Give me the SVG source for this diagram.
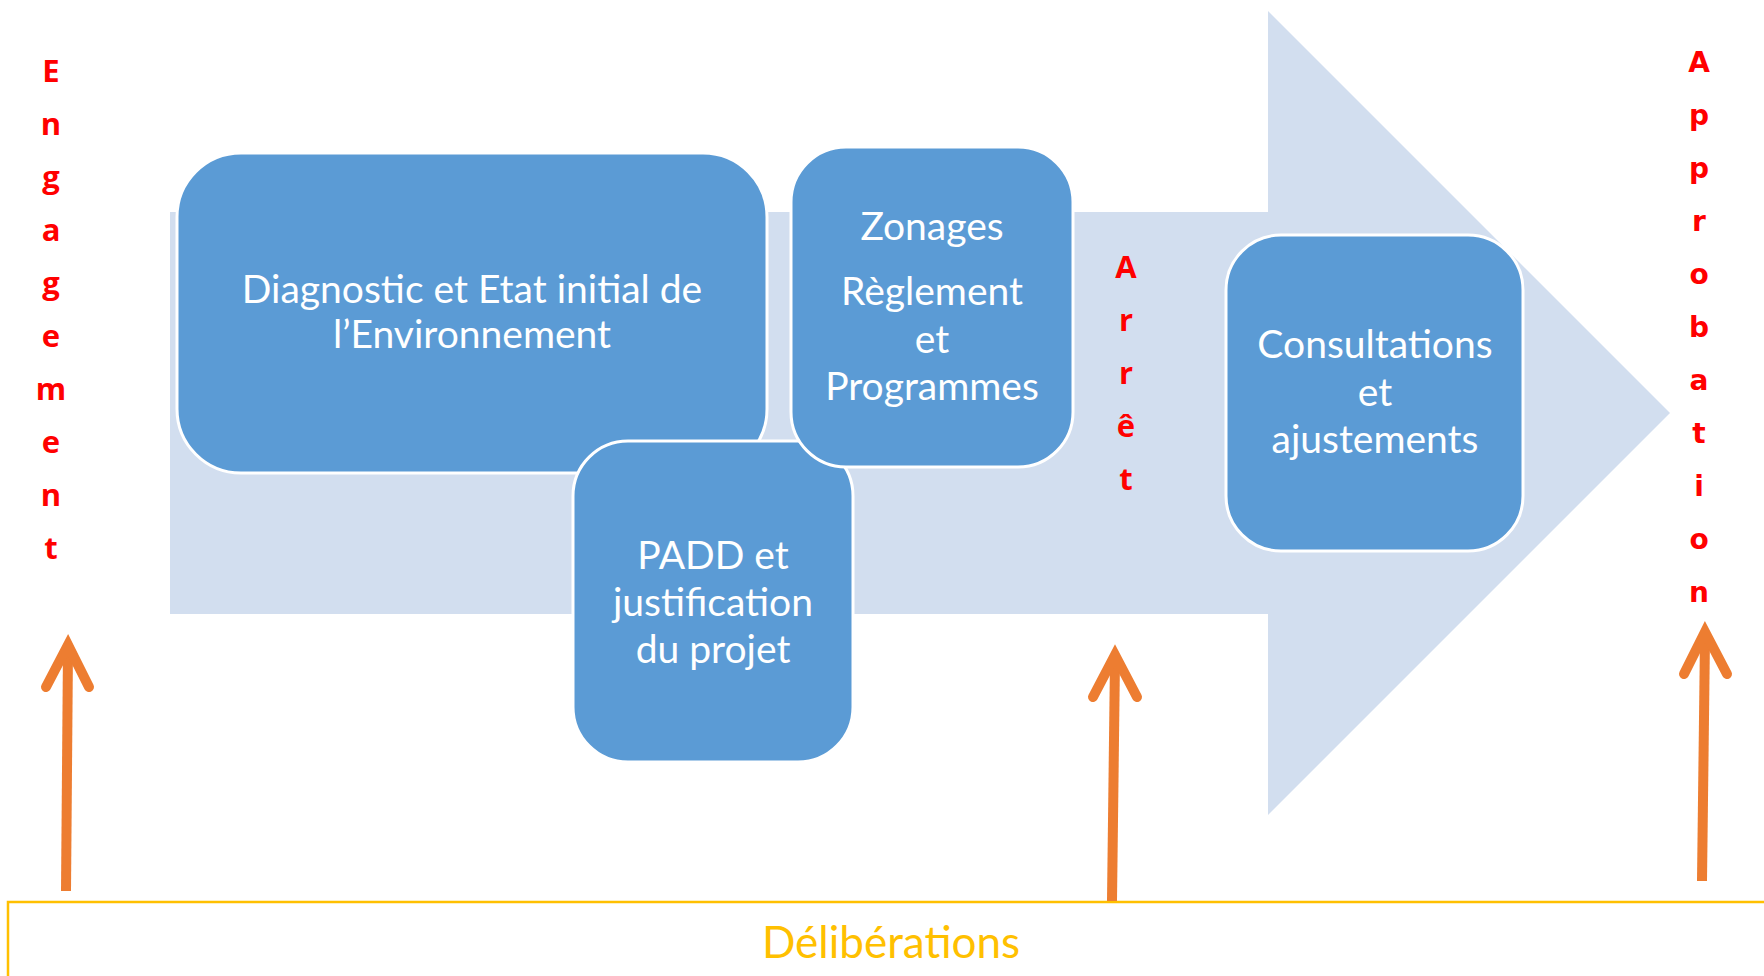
<svg xmlns="http://www.w3.org/2000/svg" width="1764" height="976" viewBox="0 0 1764 976">
<style>
.node{fill:#5B9BD5;stroke:#FFFFFF;stroke-width:3}
.nt{font-family:Lato,"Open Sans",sans-serif;font-size:39px;fill:#FFFFFF;text-anchor:middle}
.red{font-family:"Open Sans","Liberation Sans",sans-serif;font-weight:bold;font-size:31px;fill:#FF0000;text-anchor:middle}
.red2{font-family:"DejaVu Sans",sans-serif;font-weight:bold;font-size:28px;fill:#FF0000;text-anchor:middle}
.shaft{stroke:#ED7D31;stroke-width:10;fill:none;stroke-linecap:butt}
.head{stroke:#ED7D31;stroke-width:10;fill:none;stroke-linecap:round;stroke-linejoin:miter;stroke-miterlimit:10}
</style>
<rect x="0" y="0" width="1764" height="976" fill="#FFFFFF"/>
<g id="big-arrow">
<polygon points="170,212 1268,212 1268,11 1670,413 1268,815 1268,614 170,614" fill="#D2DEEF"/>
</g>
<g id="node-diagnostic">
<rect class="node" x="177" y="153" width="590" height="320" rx="64" ry="64"/>
<text class="nt" x="472" y="303">Diagnostic et Etat initial de</text>
<text class="nt" x="472" y="348">l’Environnement</text>
</g>
<g id="node-padd">
<rect class="node" x="573" y="441" width="280" height="321" rx="55" ry="55"/>
<text class="nt" x="713" y="569">PADD et</text>
<text class="nt" x="713" y="616">justification</text>
<text class="nt" x="713" y="663">du projet</text>
</g>
<g id="node-zonages">
<rect class="node" x="791" y="147" width="282" height="320" rx="55" ry="55"/>
<text class="nt" x="932" y="240">Zonages</text>
<text class="nt" x="932" y="305">Règlement</text>
<text class="nt" x="932" y="353">et</text>
<text class="nt" x="932" y="400">Programmes</text>
</g>
<g id="node-consultations">
<rect class="node" x="1226" y="235" width="297" height="316" rx="55" ry="55"/>
<text class="nt" x="1375" y="358">Consultations</text>
<text class="nt" x="1375" y="406">et</text>
<text class="nt" x="1375" y="453">ajustements</text>
</g>
<g id="label-engagement" class="red">
<text x="51" y="82">E</text>
<text x="51" y="135">n</text>
<text x="51" y="188">g</text>
<text x="51" y="241">a</text>
<text x="51" y="294">g</text>
<text x="51" y="347">e</text>
<text x="51" y="400">m</text>
<text x="51" y="453">e</text>
<text x="51" y="506">n</text>
<text x="51" y="559">t</text>
</g>
<g id="label-arret" class="red">
<text x="1126" y="278">A</text>
<text x="1126" y="331">r</text>
<text x="1126" y="384">r</text>
<text x="1126" y="437">ê</text>
<text x="1126" y="490">t</text>
</g>
<g id="label-approbation" class="red2">
<text x="1699" y="72">A</text>
<text x="1699" y="125">p</text>
<text x="1699" y="178">p</text>
<text x="1699" y="231">r</text>
<text x="1699" y="284">o</text>
<text x="1699" y="337">b</text>
<text x="1699" y="390">a</text>
<text x="1699" y="443">t</text>
<text x="1699" y="496">i</text>
<text x="1699" y="549">o</text>
<text x="1699" y="602">n</text>
</g>
<g id="node-deliberations">
<rect x="8" y="902" width="1800" height="200" fill="#FFFFFF" stroke="#FFC000" stroke-width="2.5"/>
<text x="891" y="958" font-family="Lato,'Open Sans',sans-serif" font-size="44" fill="#FFC000" text-anchor="middle">Délibérations</text>
</g>
<g id="connectors">
<line class="shaft" x1="66" y1="891" x2="68" y2="648"/>
<polyline class="head" points="46,687 68,645 89,687"/>
<line class="shaft" x1="1112" y1="901" x2="1115" y2="659"/>
<polyline class="head" points="1093,697 1115,655 1137,697"/>
<line class="shaft" x1="1702" y1="881" x2="1705" y2="637"/>
<polyline class="head" points="1684,674 1705,632 1727,674"/>
</g>
</svg>
